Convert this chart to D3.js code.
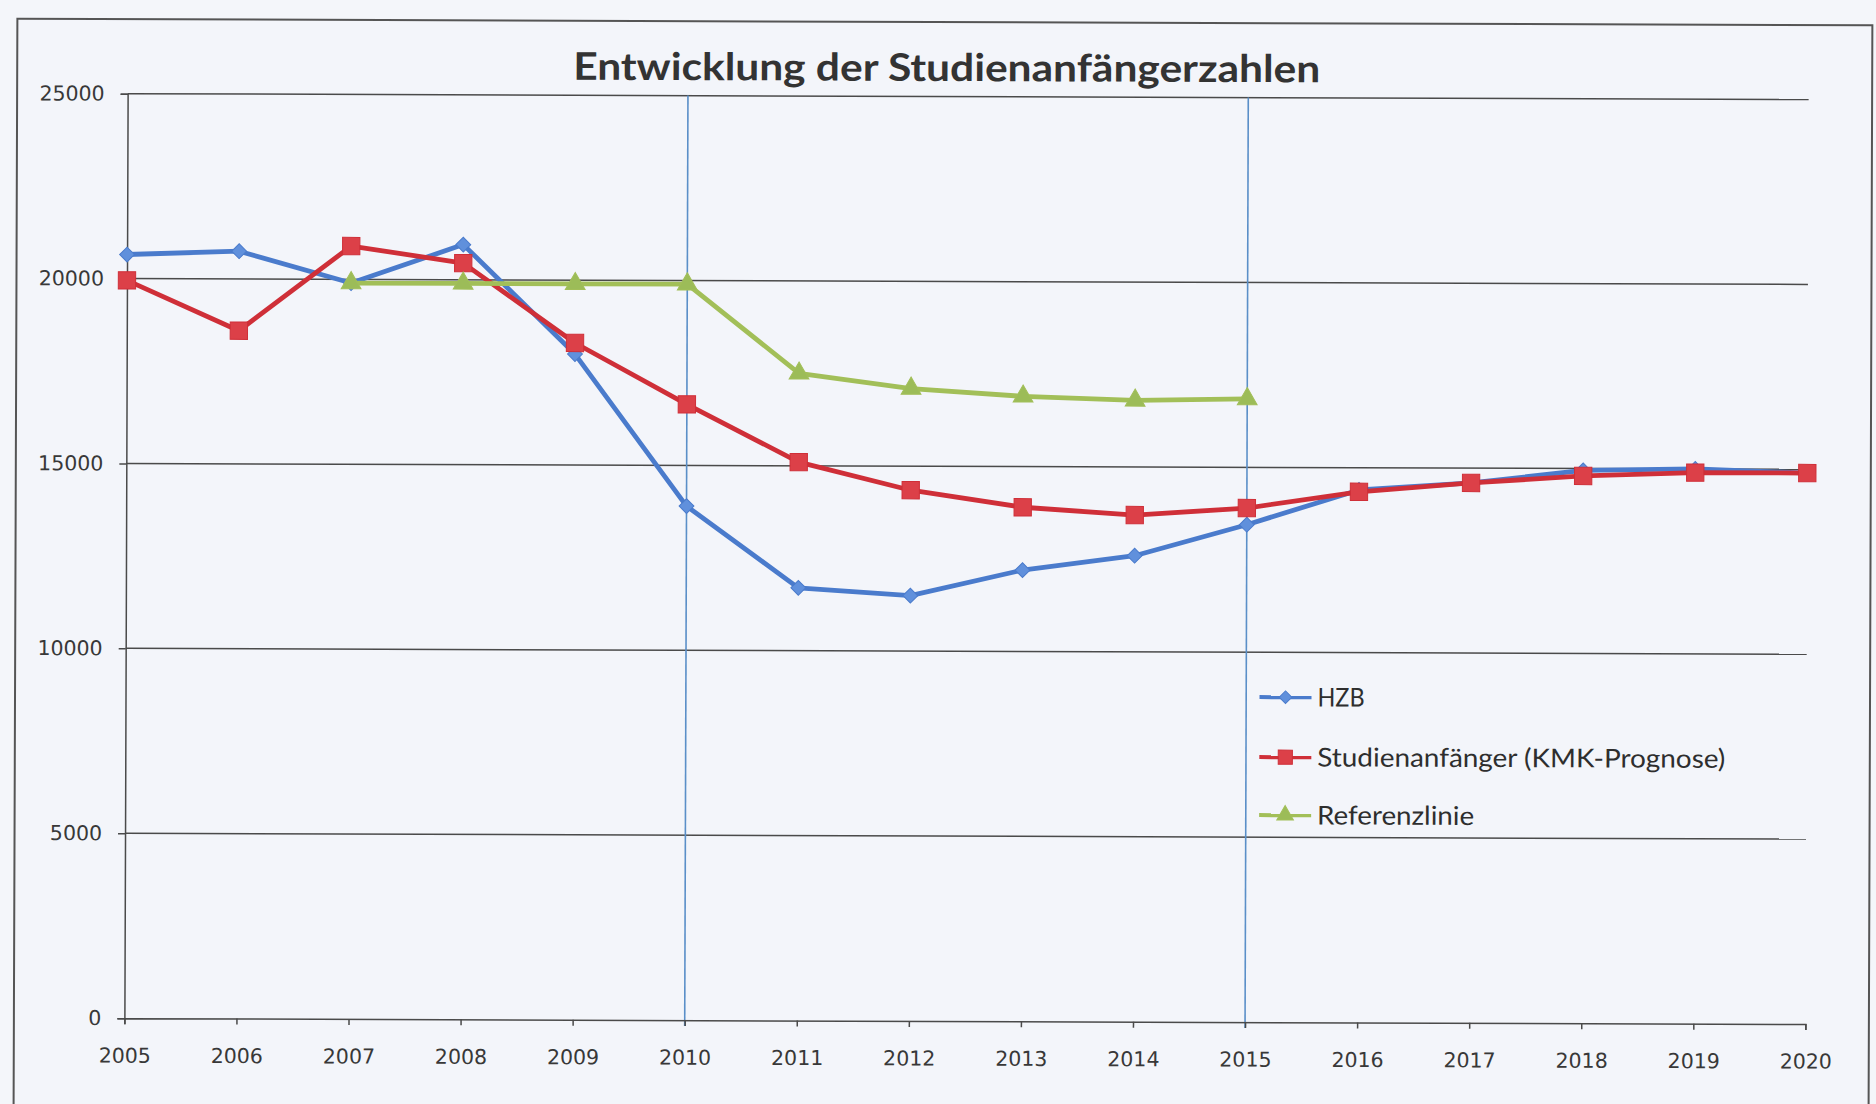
<!DOCTYPE html>
<html>
<head>
<meta charset="utf-8">
<script src="https://cdn.jsdelivr.net/npm/d3@7"></script>
<style>
  html, body { margin: 0; padding: 0; background: #f4f6fa; }
  svg { display: block; }
</style>
</head>
<body>
<svg id="chart" width="1876" height="1104"></svg>
<script>
// ---- data ----
const years = [2005, 2006, 2007, 2008, 2009, 2010, 2011, 2012, 2013, 2014, 2015, 2016, 2017, 2018, 2019, 2020];
const hzb = [20650, 20750, 19900, 20950, 18000, 13900, 11700, 11500, 12200, 12600, 13450, 14400, 14600, 14950, 15000, 14900];
const kmk = [19950, 18600, 20900, 20450, 18300, 16650, 15100, 14350, 13900, 13700, 13900, 14350, 14600, 14800, 14900, 14900];
const referenz = [null, null, 19900, 19900, 19900, 19900, 17500, 17100, 16900, 16800, 16850, null, null, null, null, null];
const yTicks = [0, 5000, 10000, 15000, 20000, 25000];
const markerYears = [2010, 2015];
const seriesNames = ["HZB", "Studienanfänger (KMK-Prognose)", "Referenzlinie"];
const titleText = "Entwicklung der Studienanfängerzahlen";

// ---- layout ----
const plotLeft = 126, plotRight = 1807, plotTop = 96.5, plotBottom = 1021;

const svg = d3.select("#chart");
const root = svg.append("g").attr("transform", "rotate(0.2, 940, 560)");

root.append("rect")
  .attr("x", 15.5).attr("y", 22).attr("width", 1855).attr("height", 1110)
  .attr("fill", "#f3f5fa").attr("stroke", "#555").attr("stroke-width", 2);

const x = d3.scaleLinear().domain([years[0], years[years.length - 1]]).range([plotLeft, plotRight]);
const y = d3.scaleLinear().domain([0, 25000]).range([plotBottom, plotTop]);

// gridlines
root.append("g")
  .selectAll("line").data(yTicks.filter(d => d > 0)).join("line")
  .attr("x1", plotLeft).attr("x2", plotRight)
  .attr("y1", d => y(d)).attr("y2", d => y(d))
  .attr("stroke", "#4a4a4a").attr("stroke-width", 1.5);

// vertical blue reference lines
root.append("g")
  .selectAll("line").data(markerYears).join("line")
  .attr("x1", d => x(d)).attr("x2", d => x(d))
  .attr("y1", y(25000)).attr("y2", plotBottom + 6)
  .attr("stroke", "#5a8fc8").attr("stroke-width", 1.6);

// y axis
const yAxis = d3.axisLeft(y).tickValues(yTicks).tickSize(7).tickPadding(16).tickFormat(d3.format("d"));
const gy = root.append("g").attr("transform", `translate(${plotLeft},0)`).call(yAxis);
gy.select(".domain").attr("stroke", "#4a4a4a").attr("stroke-width", 1.5);
gy.selectAll(".tick line").attr("stroke", "#4a4a4a").attr("stroke-width", 1.5);
gy.selectAll("text").attr("font-family", "'DejaVu Sans', Verdana, sans-serif")
  .attr("font-size", 20.5).attr("fill", "#383838");

// x axis
const xAxis = d3.axisBottom(x).tickValues(years).tickSize(6).tickPadding(24).tickFormat(d3.format("d"));
const gx = root.append("g").attr("transform", `translate(0,${plotBottom})`).call(xAxis);
gx.select(".domain").attr("stroke", "#4a4a4a").attr("stroke-width", 1.5);
gx.selectAll(".tick line").attr("stroke", "#4a4a4a").attr("stroke-width", 1.5);
gx.selectAll("text").attr("font-family", "'DejaVu Sans', Verdana, sans-serif")
  .attr("font-size", 20.5).attr("fill", "#383838");

// series (diamond = square rotated 45°)
const series = [
  { name: seriesNames[0], values: hzb, line: "#4a7bcc", fill: "#6090dc", shape: d3.symbolSquare, rot: 45, size: 110, lsize: 80 },
  { name: seriesNames[1], values: kmk, line: "#cf2f38", fill: "#dc4048", shape: d3.symbolSquare, rot: 0, size: 300, lsize: 200 },
  { name: seriesNames[2], values: referenz, line: "#a2bf58", fill: "#9cbc58", shape: d3.symbolTriangle, rot: 0, size: 170, lsize: 120 }
];

const lineGen = d3.line()
  .defined(d => d.v !== null)
  .x(d => x(d.year)).y(d => y(d.v));

series.forEach(s => {
  const pts = years.map((yr, i) => ({ year: yr, v: s.values[i] }));
  const g = root.append("g");
  g.append("path").datum(pts)
    .attr("d", lineGen).attr("fill", "none")
    .attr("stroke", s.line).attr("stroke-width", 4.8).attr("stroke-linejoin", "round");
  g.selectAll("path.m").data(pts.filter(d => d.v !== null)).join("path")
    .attr("class", "m")
    .attr("d", d3.symbol().type(s.shape).size(s.size))
    .attr("transform", d => `translate(${x(d.year)},${y(d.v)}) rotate(${s.rot})`)
    .attr("fill", s.fill).attr("stroke", s.line).attr("stroke-width", 1);
});

// title
root.append("text")
  .attr("x", 945).attr("y", 81).attr("text-anchor", "middle")
  .attr("font-family", "Lato, 'Open Sans', sans-serif").attr("font-weight", "bold")
  .attr("font-size", 38).attr("fill", "#333")
  .attr("textLength", 747).attr("lengthAdjust", "spacingAndGlyphs")
  .text(titleText);

// legend
const legendY = [696, 756, 814];
const legendLen = [47, 408, 157];
const legend = root.append("g");
series.forEach((s, i) => {
  const gl = legend.append("g").attr("transform", `translate(0,${legendY[i]})`);
  gl.append("line").attr("x1", 1260).attr("x2", 1312).attr("y1", 0).attr("y2", 0)
    .attr("stroke", s.line).attr("stroke-width", 4);
  gl.append("path").attr("d", d3.symbol().type(s.shape).size(s.lsize))
    .attr("transform", `translate(1286,0) rotate(${s.rot})`)
    .attr("fill", s.fill).attr("stroke", s.line).attr("stroke-width", 1);
  gl.append("text").attr("x", 1318).attr("y", 0).attr("dy", "0.35em")
    .attr("font-family", "Lato, 'Open Sans', sans-serif").attr("font-size", 26).attr("fill", "#2e2e2e")
    .attr("textLength", legendLen[i]).attr("lengthAdjust", "spacingAndGlyphs")
    .text(s.name);
});
</script>
</body>
</html>
